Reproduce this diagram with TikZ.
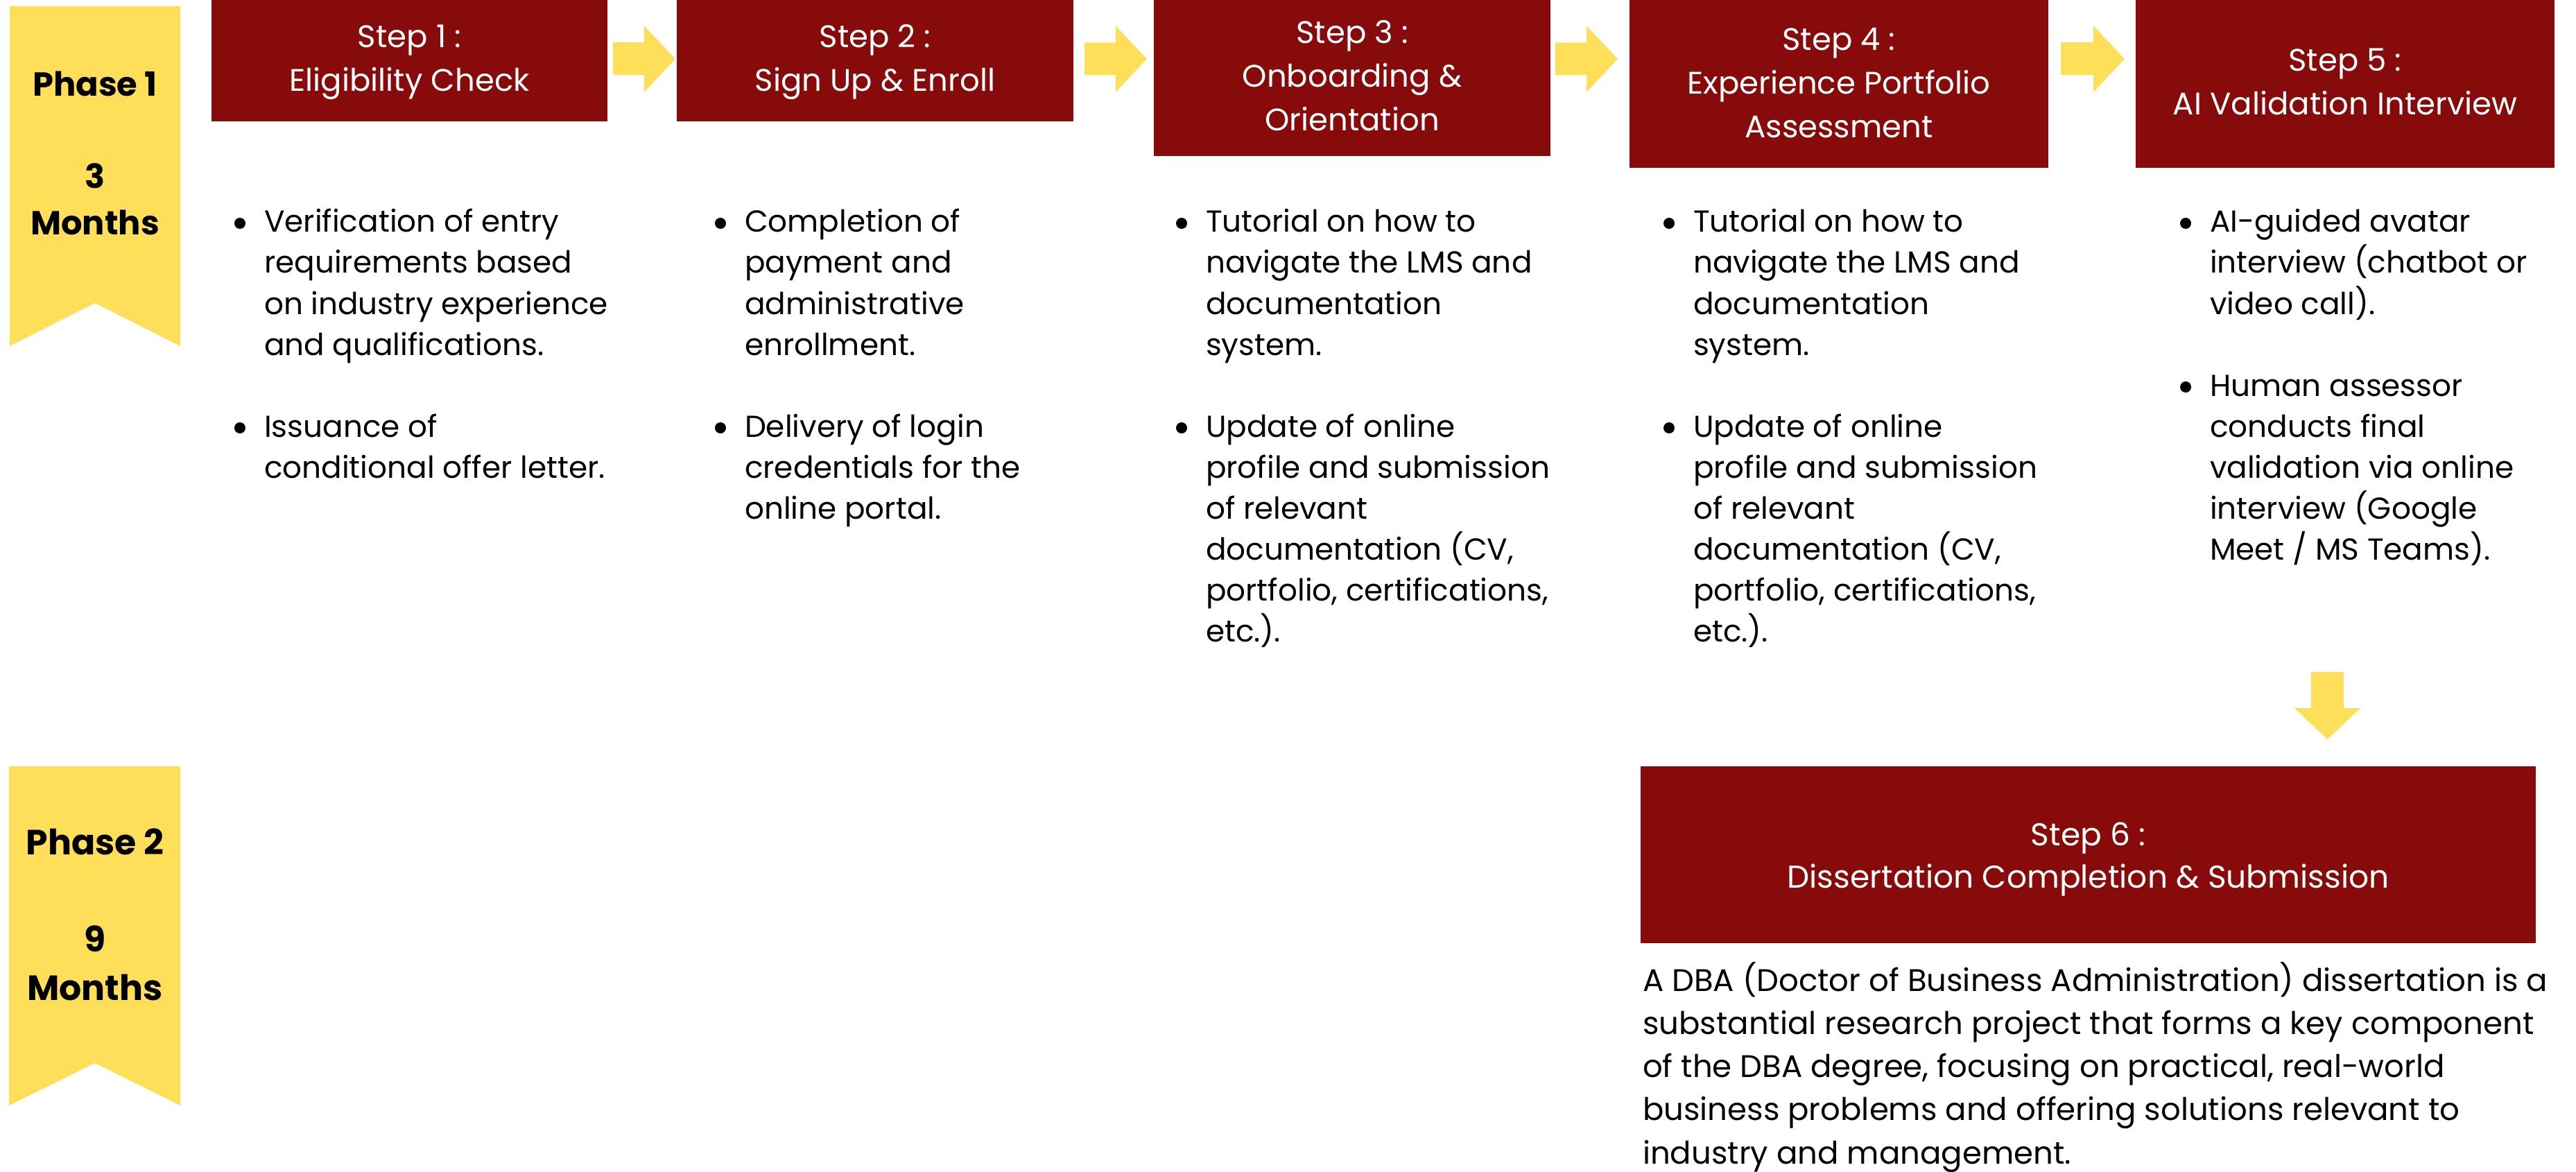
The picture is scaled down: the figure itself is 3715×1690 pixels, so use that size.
\documentclass[tikz,border=0pt]{standalone}
\usepackage{fontspec}
\setmainfont{Poppins}
\usetikzlibrary{arrows.meta,calc}
\definecolor{dred}{HTML}{880B0B}
\definecolor{yel}{HTML}{FFDE59}
\newcommand\bodyfont{\fontsize{8.75pt}{11.8pt}\selectfont}
\newcommand\parafont{\fontsize{9.0pt}{12.45pt}\selectfont}
\newcommand\headfont{\fontsize{9.0pt}{12.6pt}\selectfont}
\newcommand\headsixfont{\fontsize{9.1pt}{12.2pt}\selectfont}
\newcommand\phasefont{\fontsize{9.6pt}{13.3pt}\selectfont\bfseries}
\newcommand\phasetwofont{\fontsize{10.1pt}{14pt}\selectfont\bfseries}
\newcommand\hd[1]{\begin{tabular}[t]{@{}c@{}}#1\end{tabular}}
\newcommand\bul{\makebox[3.2pt][c]{\tikz[baseline={(0pt,-2.6pt)}]\fill (0pt,0pt) circle[radius=1.6pt];}}
\newcommand\blist[1]{\begin{tabular}[t]{@{}p{8.6pt}@{}l@{}}#1\end{tabular}}
\tikzset{
  stepbox/.style={fill=dred, text=white, inner sep=0pt, font=\headfont},
  phasetext/.style={inner sep=0pt, font=\phasefont, text=black},
  bodytext/.style={inner sep=0pt, font=\bodyfont, text=black, anchor=base west},
  yarrow/.style={draw=yel, line width=9.4pt, -{Triangle[length=9pt,width=18.6pt]}},
  banner/.style={fill=yel}
}
\begin{document}
\begin{tikzpicture}[x=0.2pt,y=-0.2pt]
\fill[white] (0,0) rectangle (3715,1690);
\useasboundingbox (0,0) rectangle (3715,1690);

% phase banners
\fill[banner] (14,9) -- (260,9) -- (260,499) -- (137,437) -- (14,499) -- cycle;
\node[phasetext, anchor=base] (p1) at (137,139) {\hd{Phase 1\\ \\3\\Months}};
\fill[banner] (13,1105) -- (260,1105) -- (260,1594) -- (137,1533) -- (13,1594) -- cycle;
\node[phasetext, font=\phasetwofont, anchor=base] (p2) at (137,1232) {\hd{Phase 2\\ \\9\\Months}};

% step boxes
\node[stepbox, minimum width=114.2pt, minimum height=35pt] (s1) at (590.5,87.5) {\hd{Step 1 :\\Eligibility Check}};
\node[stepbox, minimum width=114.4pt, minimum height=35pt] (s2) at (1262,87.5) {\hd{Step 2 :\\Sign Up \& Enroll}};
\node[stepbox, minimum width=114.4pt, minimum height=45pt] (s3) at (1950,112.5) {\hd{Step 3 :\\Onboarding \&\\Orientation}};
\node[stepbox, minimum width=120.8pt, minimum height=48.4pt] (s4) at (2652,121) {\raisebox{-0.4pt}[\height][\depth]{\hd{Step 4 :\\Experience Portfolio\\Assessment}}};
\node[stepbox, minimum width=120.8pt, minimum height=48.4pt] (s5) at (3382,121) {\hd{Step 5 :\\AI Validation Interview}};
\node[stepbox, font=\headsixfont, minimum width=258.2pt, minimum height=51pt] (s6) at (3011.5,1232.5) {\raisebox{-1pt}[\height][\depth]{\hd{Step 6 :\\Dissertation Completion \& Submission}}};

% arrows
\draw[yarrow] ($(s1.north east)+(7,86)$) -- ($(s2.north west)+(-1,86)$);
\draw[yarrow] ($(s2.north east)+(15,86)$) -- ($(s3.north west)+(-9,86)$);
\draw[yarrow] ($(s3.north east)+(6,86)$) -- ($(s4.north west)+(-16,86)$);
\draw[yarrow] ($(s4.north east)+(17,86)$) -- ($(s5.north west)+(-15,86)$);
\draw[yarrow] ($(s6.north)+(345,-135)$) -- ($(s6.north)+(345,-38)$);

% bullet texts
\node[bodytext] (b1) at (337,335) {\blist{%
\bul & Verification of entry\\
 & requirements based\\
 & on industry experience\\
 & and qualifications.\\
 & \\
\bul & Issuance of\\
 & conditional offer letter.}};
\node[bodytext] (b2) at (1030,335) {\blist{%
\bul & Completion of\\
 & payment and\\
 & administrative\\
 & enrollment.\\
 & \\
\bul & Delivery of login\\
 & credentials for the\\
 & online portal.}};
\node[bodytext] (b3) at (1695,335) {\blist{%
\bul & Tutorial on how to\\
 & navigate the LMS and\\
 & documentation\\
 & system.\\
 & \\
\bul & Update of online\\
 & profile and submission\\
 & of relevant\\
 & documentation (CV,\\
 & portfolio, certifications,\\
 & etc.).}};
\node[bodytext] (b4) at (2398,335) {\blist{%
\bul & Tutorial on how to\\
 & navigate the LMS and\\
 & documentation\\
 & system.\\
 & \\
\bul & Update of online\\
 & profile and submission\\
 & of relevant\\
 & documentation (CV,\\
 & portfolio, certifications,\\
 & etc.).}};
\node[bodytext] (b5) at (3143,335) {\blist{%
\bul & AI-guided avatar\\
 & interview (chatbot or\\
 & video call).\\
 & \\
\bul & Human assessor\\
 & conducts final\\
 & validation via online\\
 & interview (Google\\
 & Meet / MS Teams).}};
\node[bodytext, font=\parafont] (d6) at (2368,1429) {\begin{tabular}[t]{@{}l@{}}%
A DBA (Doctor of Business Administration) dissertation is a\\
substantial research project that forms a key component\\
of the DBA degree, focusing on practical, real-world\\
business problems and offering solutions relevant to\\
industry and management.\end{tabular}};
\end{tikzpicture}
\end{document}
